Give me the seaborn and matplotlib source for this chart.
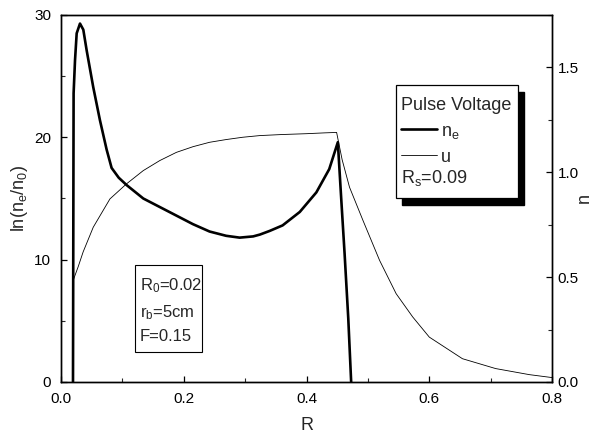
import matplotlib
matplotlib.use("Agg")
import matplotlib.pyplot as plt
import seaborn as sns
from matplotlib.lines import Line2D
from matplotlib.patches import Rectangle
from matplotlib.ticker import MultipleLocator

# style
sns.set_style("ticks")
plt.rcParams['font.family'] = ['Liberation Sans', 'DejaVu Sans']
plt.rcParams['mathtext.fontset'] = 'custom'
plt.rcParams['mathtext.rm'] = 'Liberation Sans'
plt.rcParams['mathtext.it'] = 'Liberation Sans'

# n_e curve (left axis, ln(n_e/n_0))
R_ne = [0.0195, 0.0200, 0.0205, 0.0228, 0.0255, 0.0309, 0.0363, 0.0418,
        0.0525, 0.0634, 0.0743, 0.0824, 0.0940, 0.1068, 0.134, 0.161,
        0.188, 0.215, 0.242, 0.269, 0.291, 0.313, 0.324, 0.340, 0.361,
        0.389, 0.416, 0.437, 0.451, 0.456, 0.462, 0.468, 0.4727]
ln_ne = [0.0, 12.0, 23.6, 26.3, 28.5, 29.3, 28.8, 27.1,
         24.1, 21.4, 19.0, 17.5, 16.7, 16.1, 15.0, 14.3,
         13.6, 12.9, 12.3, 11.95, 11.8, 11.9, 12.05, 12.35, 12.8,
         13.9, 15.5, 17.4, 19.6, 15.4, 10.5, 5.2, 0.0]

# u curve (right axis, n)
R_u = [0.0205, 0.028, 0.036, 0.0525, 0.0797, 0.1068, 0.134, 0.161, 0.188,
       0.215, 0.242, 0.269, 0.296, 0.324, 0.360, 0.400, 0.430, 0.449,
       0.458, 0.470, 0.492, 0.519, 0.546, 0.573, 0.600, 0.654, 0.708,
       0.763, 0.800]
u = [0.49, 0.55, 0.62, 0.738, 0.873, 0.945, 1.008, 1.056, 1.095,
     1.122, 1.143, 1.156, 1.167, 1.175, 1.180, 1.184, 1.188, 1.19,
     1.06, 0.929, 0.77, 0.58, 0.421, 0.31, 0.214, 0.111, 0.064,
     0.035, 0.021]

fig = plt.figure(figsize=(6.03, 4.36), dpi=100)
ax = fig.add_axes([0.1012, 0.1239, 0.8143, 0.8417])
ax2 = ax.twinx()

sns.lineplot(x=R_ne, y=ln_ne, ax=ax, sort=False, estimator=None,
             color='black', linewidth=1.9)
sns.lineplot(x=R_u, y=u, ax=ax2, sort=False, estimator=None,
             color='black', linewidth=0.6)

# axes
ax.set_xlim(0, 0.8)
ax.set_ylim(0, 30)
ax2.set_ylim(0, 1.75)
ax.xaxis.set_major_locator(MultipleLocator(0.2))
ax.xaxis.set_minor_locator(MultipleLocator(0.1))
ax.yaxis.set_major_locator(MultipleLocator(10))
ax.yaxis.set_minor_locator(MultipleLocator(5))
ax2.yaxis.set_major_locator(MultipleLocator(0.5))
ax2.yaxis.set_minor_locator(MultipleLocator(0.25))
ax.xaxis.set_major_formatter(plt.FormatStrFormatter('%.1f'))
ax2.yaxis.set_major_formatter(plt.FormatStrFormatter('%.1f'))

for a in (ax, ax2):
    a.tick_params(which='major', direction='in', length=4.5, width=0.9,
                  labelsize=11, color='black', labelcolor='black')
    a.tick_params(which='minor', direction='in', length=3, width=0.8)
    for s in a.spines.values():
        s.set_visible(True)
        s.set_linewidth(1.0)
        s.set_color('black')
ax.tick_params(top=False, right=False, which='both')
ax2.tick_params(left=False, top=False, which='both')
ax.tick_params(axis='x', which='major', pad=7)
ax.tick_params(axis='y', which='major', pad=7)
ax2.tick_params(axis='y', which='major', pad=4)

ax.set_xlabel('R', fontsize=13, labelpad=8)
ax.set_ylabel(r'ln(n$_e$/n$_0$)', fontsize=13, labelpad=3)
ax2.set_ylabel('n', fontsize=13, labelpad=-2)

# legend box with shadow
shadow = Rectangle((0.694, 0.482), 0.249, 0.308, transform=ax2.transAxes,
                   facecolor='black', edgecolor='black', zorder=4)
box = Rectangle((0.682, 0.501), 0.249, 0.308, transform=ax2.transAxes,
                facecolor='white', edgecolor='black', linewidth=0.9, zorder=5)
ax2.add_patch(shadow)
ax2.add_patch(box)

handles = [Line2D([], [], color='black', linewidth=1.9),
           Line2D([], [], color='black', linewidth=0.6)]
leg = ax2.legend(handles, [r'n$_e$', 'u'], title='Pulse Voltage',
                 loc='upper left', bbox_to_anchor=(0.678, 0.795),
                 frameon=False, fontsize=13, title_fontsize=13,
                 handlelength=2.0, handletextpad=0.2, labelspacing=0.45,
                 alignment='left', borderaxespad=0)
leg.set_zorder(6)
ax2.text(0.692, 0.556, r'R$_s$=0.09', transform=ax2.transAxes,
         fontsize=13, va='center', ha='left', zorder=7)

# parameter box
pbox = Rectangle((0.151, 0.082), 0.136, 0.237, transform=ax2.transAxes,
                 facecolor='white', edgecolor='black', linewidth=0.8, zorder=5)
ax2.add_patch(pbox)
ax2.text(0.160, 0.196, 'R$_0$=0.02\nr$_b$=5cm\nF=0.15', transform=ax2.transAxes,
         fontsize=12, va='center', ha='left', linespacing=1.6, zorder=7)

fig.savefig('out.png', dpi=100)
